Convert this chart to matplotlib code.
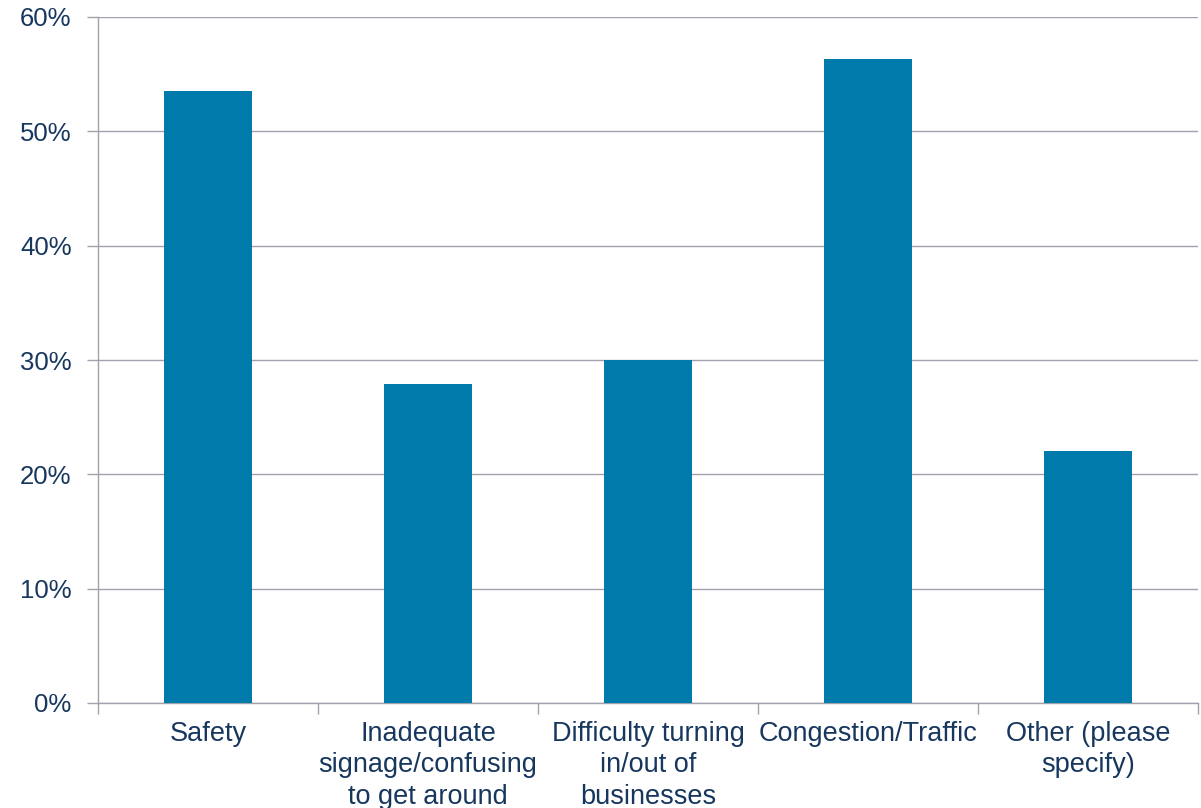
import numpy as np
import matplotlib.pyplot as plt
from matplotlib.ticker import FixedLocator, PercentFormatter

categories = ["Safety", "Inadequate\nsignage/confusing\nto get around",
              "Difficulty turning\nin/out of\nbusinesses", "Congestion/Traffic",
              "Other (please\nspecify)"]
values = [53.5, 27.9, 30.0, 56.3, 22.0]
yticks = [0, 10, 20, 30, 40, 50, 60]

BAR = "#007BAC"
TXT = "#17375E"
AX = "#A0A3AD"

plt.rcParams['font.family'] = ['Liberation Sans', 'DejaVu Sans']

fig = plt.figure(figsize=(12.01, 8.08), dpi=100)
ax = fig.add_axes([98/1201, 1 - 703/808, 1100/1201, 686/808])

x = np.arange(len(categories))
ax.bar(x, values, width=0.4, color=BAR, zorder=3)

ax.set_xlim(-0.5, len(categories) - 0.5)
ax.set_ylim(0, 60)
ax.set_yticks(yticks)
ax.yaxis.set_major_formatter(PercentFormatter(decimals=0))
ax.set_xticks(x)
ax.set_xticklabels(categories, linespacing=1.27)
ax.xaxis.set_minor_locator(FixedLocator(np.arange(len(categories) + 1) - 0.5))

ax.grid(axis='y', color=AX, linewidth=1, zorder=0)
for s in ['top', 'right']:
    ax.spines[s].set_visible(False)
for s in ['left', 'bottom']:
    ax.spines[s].set_color(AX)
    ax.spines[s].set_linewidth(1)

ax.tick_params(axis='x', which='major', length=0, pad=13, labelsize=19.5, labelcolor=TXT)
ax.tick_params(axis='x', which='minor', length=8, width=1, color=AX)
ax.tick_params(axis='y', length=8, width=1, color=AX, pad=11, labelsize=18.5, labelcolor=TXT)

fig.savefig("out.png", dpi=100)
